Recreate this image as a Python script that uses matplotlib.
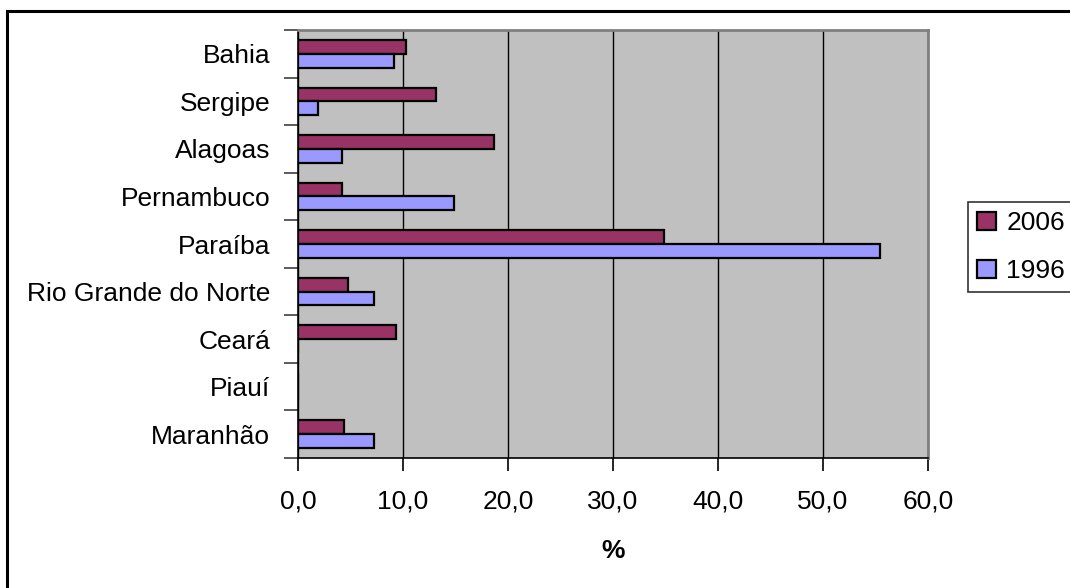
import matplotlib
matplotlib.use("Agg")
import matplotlib.pyplot as plt
from matplotlib.patches import Rectangle
import numpy as np

plt.rcParams['font.family'] = ['Liberation Sans', 'DejaVu Sans']

states = ["Bahia", "Sergipe", "Alagoas", "Pernambuco", "Paraíba",
          "Rio Grande do Norte", "Ceará", "Piauí", "Maranhão"]
values_2006 = [10.3, 13.1, 18.7, 4.2, 34.9, 4.75, 9.3, 0.0, 4.35]
values_1996 = [9.1, 1.9, 4.2, 14.9, 55.4, 7.2, 0.0, 0.0, 7.2]
series_labels = ["2006", "1996"]
x_ticks = [0, 10, 20, 30, 40, 50, 60]
x_tick_labels = ["0,0", "10,0", "20,0", "30,0", "40,0", "50,0", "60,0"]

W, H = 1070, 588
fig = plt.figure(figsize=(W / 100, H / 100), dpi=100)
fig.patch.set_facecolor("white")

# outer chart-area frame (runs off the right and bottom edges)
fig.patches.append(Rectangle((7 / W, -0.1), 1.2, 1 - 10.5 / H + 0.1,
                             transform=fig.transFigure, fill=False,
                             edgecolor="black", linewidth=2.2, zorder=0))

left, right, top, bottom = 298, 928, 30, 458
ax = fig.add_axes([left / W, 1 - bottom / H, (right - left) / W, (bottom - top) / H])
ax.set_facecolor("#C0C0C0")

n = len(states)
# category centres, top to bottom
centers = np.arange(n)[::-1] + 0.5
h = 0.29
c2006 = "#993366"
c1996 = "#9999FF"
ax.barh(centers + h / 2, values_2006, height=h, color=c2006,
        edgecolor="black", linewidth=1.6, zorder=3, label=series_labels[0])
ax.barh(centers - h / 2, values_1996, height=h, color=c1996,
        edgecolor="black", linewidth=1.6, zorder=3, label=series_labels[1])

ax.set_xlim(0, 60)
ax.set_ylim(0, n)
ax.set_xticks(x_ticks)
ax.set_xticklabels(x_tick_labels, fontsize=19)
ax.xaxis.grid(True, color="black", linewidth=1.0, zorder=1)
ax.set_axisbelow(True)

# ticks at category boundaries, labels at the centres
ax.set_yticks(np.arange(n + 1))
ax.set_yticklabels([])
ax.set_yticks(centers, minor=True)
ax.set_yticklabels(states, minor=True, fontsize=19)
ax.tick_params(axis="y", which="major", length=10, width=1.2, color="#404040")
ax.tick_params(axis="y", which="minor", length=0, pad=20)
ax.tick_params(axis="x", length=9, width=1.2, pad=14)

for s in ("top", "right"):
    ax.spines[s].set_color("#808080")
    ax.spines[s].set_linewidth(2)
for s in ("left", "bottom"):
    ax.spines[s].set_color("black")
    ax.spines[s].set_linewidth(1.2)

ax.set_xlabel("%", fontsize=19, fontweight="bold", labelpad=18)

leg = fig.legend(loc="upper left", bbox_to_anchor=(968 / W, 1 - 202 / H),
                 fontsize=19, frameon=True, fancybox=False, edgecolor="black",
                 handlelength=0.7, handleheight=0.7, handletextpad=0.4,
                 borderpad=0.35, labelspacing=0.9, borderaxespad=0)
leg.get_frame().set_linewidth(1.2)

fig.savefig("out.png", dpi=100, facecolor="white")
